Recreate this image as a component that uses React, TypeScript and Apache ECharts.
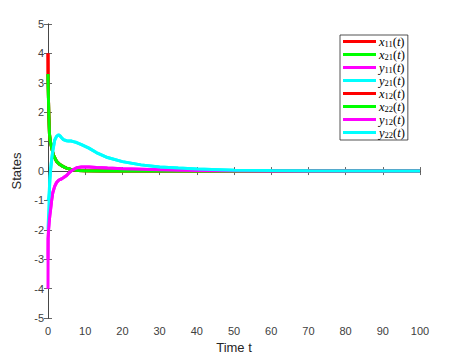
import React, { useEffect, useRef } from "react";
import * as echarts from "echarts";

// time samples
const tX = [0, 0.03, 0.2, 0.4, 0.6, 0.9, 1.4, 2.3, 3.2, 4.1, 5, 6, 7, 8, 10, 15, 20, 30, 50, 100];
const x11 = [4.0, 3.1, 2.0, 1.25, 1.02, 0.85, 0.56, 0.33, 0.22, 0.15, 0.1, 0.06, 0.04, 0.02, 0.01, 0, 0, 0, 0, 0];
const x21 = [3.3, 3.0, 2.0, 1.25, 1.02, 0.85, 0.56, 0.33, 0.22, 0.15, 0.1, 0.06, 0.04, 0.02, 0.01, 0, 0, 0, 0, 0];
const x12 = [4.0, 3.1, 2.0, 1.25, 1.02, 0.85, 0.56, 0.33, 0.22, 0.15, 0.1, 0.06, 0.04, 0.02, 0.01, 0, 0, 0, 0, 0];
const x22 = [3.3, 3.0, 2.0, 1.25, 1.02, 0.85, 0.56, 0.33, 0.22, 0.15, 0.1, 0.06, 0.04, 0.02, 0.01, 0, 0, 0, 0, 0];

const tY = [0, 0.03, 0.15, 0.3, 0.5, 0.7, 1.0, 1.3, 1.8, 2.3, 2.8, 3.2, 3.6, 4.1, 5, 5.5, 6.2, 6.8, 7.7, 9, 11, 13, 16, 20, 25, 30, 35, 40, 50, 60, 70, 100];
const y11 = [-4.0, -2.3, -2.0, -1.75, -1.5, -1.3, -0.98, -0.73, -0.52, -0.39, -0.32, -0.29, -0.27, -0.23, -0.15, -0.08, 0.0, 0.05, 0.11, 0.14, 0.14, 0.12, 0.1, 0.08, 0.06, 0.04, 0.03, 0.02, 0.01, 0.005, 0, 0];
const y21 = [-2.0, -1.9, -1.5, -1.0, -0.3, 0.05, 0.4, 0.7, 1.05, 1.18, 1.23, 1.2, 1.14, 1.07, 1.03, 1.02, 1.02, 1.0, 0.97, 0.9, 0.78, 0.63, 0.46, 0.32, 0.21, 0.14, 0.1, 0.07, 0.03, 0.015, 0.008, 0];
const y12 = [-3.0, -2.3, -2.0, -1.75, -1.5, -1.3, -0.98, -0.73, -0.52, -0.39, -0.32, -0.29, -0.27, -0.23, -0.15, -0.08, 0.0, 0.05, 0.11, 0.14, 0.14, 0.12, 0.1, 0.08, 0.06, 0.04, 0.03, 0.02, 0.01, 0.005, 0, 0];
const y22 = [-1.0, -1.0, -0.95, -0.75, -0.3, 0.05, 0.4, 0.7, 1.05, 1.18, 1.23, 1.2, 1.14, 1.07, 1.03, 1.02, 1.02, 1.0, 0.97, 0.9, 0.78, 0.63, 0.46, 0.32, 0.21, 0.14, 0.1, 0.07, 0.03, 0.015, 0.008, 0];

const seriesNames = ["x11(t)", "x21(t)", "y11(t)", "y21(t)", "x12(t)", "x22(t)", "y12(t)", "y22(t)"];
const seriesColors = ["#ff0000", "#00ff00", "#ff00ff", "#00ffff", "#ff0000", "#00ff00", "#ff00ff", "#00ffff"];
const seriesTimes = [tX, tX, tY, tY, tX, tX, tY, tY];
const seriesValues = [x11, x21, y11, y21, x12, x22, y12, y22];

const xTicks = { min: 0, max: 100, interval: 10 };
const yTicks = { min: -5, max: 5, interval: 1 };

const axisColor = "#404040";
const sans = "Liberation Sans, Arial, sans-serif";
const serif = "Liberation Serif, DejaVu Serif, serif";

export default function App() {
  const ref = useRef<HTMLDivElement>(null);
  useEffect(() => {
    if (!ref.current) return;
    const chart = echarts.init(ref.current, undefined, { renderer: "svg" });
    const tickStyle = { show: true, inside: true, length: 4, lineStyle: { color: axisColor, width: 0.8 } };
    const lineStyle = { lineStyle: { color: axisColor, width: 0.8 } };
    chart.setOption({
      animation: false,
      backgroundColor: "#ffffff",
      grid: { left: 48, right: 34, top: 24, bottom: 40 },
      legend: {
        orient: "vertical",
        left: 340,
        top: 35,
        padding: [0, 3, 1, 3],
        itemGap: 0,
        itemWidth: 33,
        itemHeight: 3,
        icon: "rect",
        borderColor: "#262626",
        borderWidth: 0.8,
        backgroundColor: "#ffffff",
        data: seriesNames,
        formatter: (name: string) => {
          const m = name.match(/^([xy])(\d+)\(t\)$/);
          if (!m) return name;
          return `{v|${m[1]}}{s|${m[2]}}{l|(}{v|t}{l|)}`;
        },
        textStyle: {
          padding: [0, 0, 0, -2],
          rich: {
            v: { fontFamily: serif, fontStyle: "italic", fontSize: 12.5, color: "#000", lineHeight: 13 },
            s: { fontFamily: serif, fontSize: 8.5, color: "#000", lineHeight: 13, verticalAlign: "bottom", padding: [4, 0, 0, 0] },
            l: { fontFamily: serif, fontSize: 12.5, color: "#000", lineHeight: 13 },
          },
        },
      },
      xAxis: [
        {
          type: "value",
          ...xTicks,
          position: "bottom",
          name: "Time t",
          nameLocation: "middle",
          nameGap: 17,
          nameTextStyle: { fontFamily: sans, fontSize: 13, color: "#262626" },
          axisLine: { show: true, ...lineStyle },
          axisTick: tickStyle,
          axisLabel: { fontFamily: sans, fontSize: 11, color: axisColor, margin: 7 },
          splitLine: { show: false },
        },
        {
          type: "value",
          ...xTicks,
          position: "top",
          axisLine: { show: true, ...lineStyle },
          axisTick: tickStyle,
          axisLabel: { show: false },
          splitLine: { show: false },
        },
      ],
      yAxis: [
        {
          type: "value",
          ...yTicks,
          position: "left",
          name: "States",
          nameLocation: "middle",
          nameGap: 16,
          nameTextStyle: { fontFamily: sans, fontSize: 13, color: "#262626" },
          axisLine: { show: true, ...lineStyle },
          axisTick: tickStyle,
          axisLabel: { fontFamily: sans, fontSize: 11, color: axisColor, margin: 4 },
          splitLine: { show: false },
        },
        {
          type: "value",
          ...yTicks,
          position: "right",
          axisLine: { show: true, ...lineStyle },
          axisTick: tickStyle,
          axisLabel: { show: false },
          splitLine: { show: false },
        },
      ],
      series: seriesNames.map((name, i) => ({
        name,
        type: "line",
        xAxisIndex: 0,
        yAxisIndex: 0,
        symbol: "none",
        showSymbol: false,
        color: seriesColors[i],
        lineStyle: { color: seriesColors[i], width: 3 },
        data: seriesTimes[i].map((t, j) => [t, seriesValues[i][j]]),
      })),
    });
    return () => chart.dispose();
  }, []);
  return <div ref={ref} style={{ position: "fixed", left: 0, top: 0, width: 454, height: 359 }} />;
}
